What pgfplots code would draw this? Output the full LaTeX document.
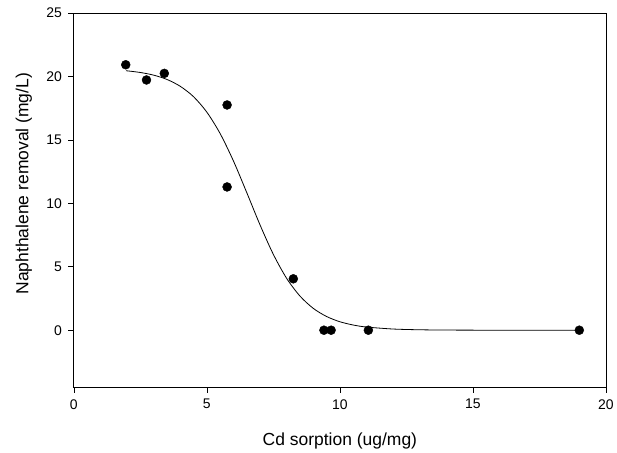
\documentclass[border=0pt]{standalone}
\usepackage{fontspec}
\setmainfont{Liberation Sans}
\usepackage{pgfplots}
\pgfplotsset{compat=1.18}
\begin{document}
\begin{tikzpicture}
\begin{axis}[
  name=ax,
  scale only axis,
  width=533bp, height=375bp,
  xmin=0, xmax=20, ymin=-4.5, ymax=25,
  xtick={0,5,10,15,20}, ytick={0,5,10,15,20,25},
  xtick pos=bottom, ytick pos=left,
  tick align=outside,
  major tick length=5.5bp,
  tick style={black, line width=0.7bp},
  axis line style={line width=0.8bp},
  /pgf/number format/assume math mode=true,
  tick label style={font=\fontsize{14bp}{16bp}\selectfont},
  label style={font=\fontsize{17.5bp}{20bp}\selectfont},
  xlabel={Cd sorption (ug/mg)},
  ylabel={Naphthalene removal (mg/L)},
  xlabel style={at={(axis description cs:0.5,-0.144)}, anchor=center},
  ylabel style={at={(axis description cs:-0.0938,0.544)}, anchor=center},
  xticklabel style={yshift=-3bp},
  yticklabel style={xshift=-3bp},
]
\addplot[black, line width=0.8bp, smooth] coordinates {
(1.96,20.45) (2.5,20.31) (3,20.10) (3.5,19.76) (4,19.22) (4.5,18.40) (5,17.18) (5.5,15.49) (6,13.33) (6.5,10.84) (7,8.29) (7.5,5.97) (8,4.08) (8.5,2.69) (9,1.72) (9.5,1.08) (10,0.667) (10.5,0.410) (11,0.250) (12,0.093) (13,0.034) (14,0.0126) (15,0.0046) (17,0.0006) (19,0.0001)
};
\addplot[only marks, mark=*, mark size=4.5bp, black] coordinates {
(1.95,20.92) (2.73,19.72) (3.40,20.24) (5.76,17.75) (5.76,11.29) (8.25,4.05) (9.40,0) (9.67,0) (11.07,0) (19.0,0)
};
\end{axis}
\path (ax.south west) ++(-74bp,-64bp) coordinate (bbA);
\path (ax.north east) ++(10bp,13bp) coordinate (bbB);
\path[use as bounding box] (bbA) rectangle (bbB);
\end{tikzpicture}
\end{document}
